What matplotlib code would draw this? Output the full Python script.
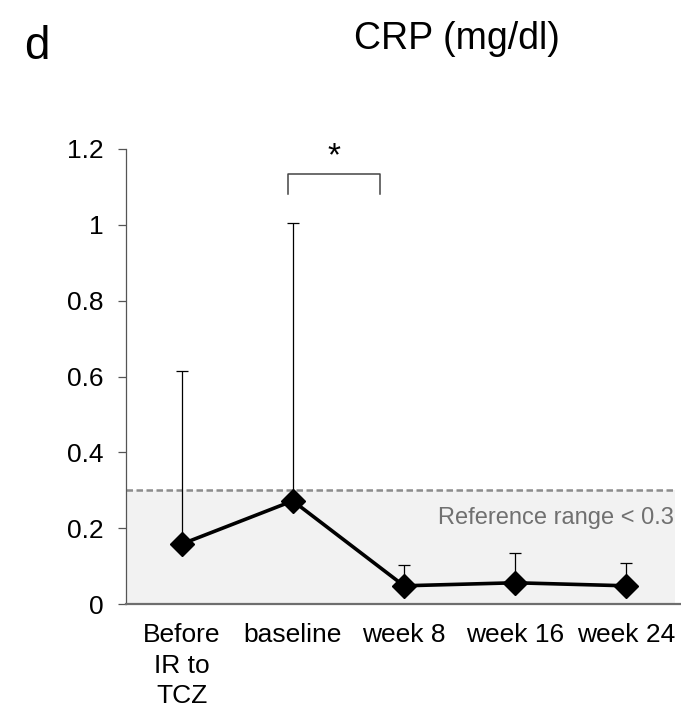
import matplotlib

matplotlib.use("Agg")
import matplotlib.pyplot as plt  # noqa: E402

plt.rcParams["font.family"] = ["Liberation Sans", "DejaVu Sans"]

# data
categories = ["Before\nIR to\nTCZ", "baseline", "week 8", "week 16", "week 24"]
crp_mean = [0.158, 0.272, 0.048, 0.056, 0.048]
crp_upper_err = [0.456, 0.732, 0.054, 0.079, 0.061]
reference_limit = 0.3
y_ticks = [0, 0.2, 0.4, 0.6, 0.8, 1, 1.2]
y_tick_labels = ["0", "0.2", "0.4", "0.6", "0.8", "1", "1.2"]

fig = plt.figure(figsize=(6.81, 7.08), dpi=100)
ax = fig.add_axes([126 / 681, 104 / 708, 556 / 681, 455 / 708])

x = list(range(len(categories)))
ax.set_xlim(-0.5, len(categories) - 0.5)
ax.set_ylim(0, 1.2)

# reference range band and its dashed upper limit
ax.axhspan(0, reference_limit, xmax=0.988, color="#f2f2f2", zorder=0, linewidth=0)
ax.axhline(reference_limit, xmax=0.988, color="#8c8c8c", linestyle=(0, (2.6, 1.4)),
           linewidth=1.8, zorder=1)
ax.text(4.43, 0.226, "Reference range < 0.3", ha="right", va="center",
        fontsize=17, color="#707070")

# one-sided (upper) error bars
ax.errorbar(x, crp_mean, yerr=[[0] * len(x), crp_upper_err], fmt="none",
            ecolor="black", elinewidth=0.9, capsize=4.2, capthick=0.9, zorder=2)
ax.plot(x, crp_mean, color="black", linewidth=2.6, marker="D", markersize=12,
        zorder=3)

# significance bracket baseline vs week 8
bx0, bx1 = 0.96, 1.78
ax.plot([bx0, bx0, bx1, bx1], [1.082, 1.134, 1.134, 1.082], color="#444444",
        linewidth=1.1, clip_on=False)
ax.text((bx0 + bx1) / 2, 1.138, "*", ha="center", va="bottom", fontsize=24)

ax.set_xticks(x)
ax.set_xticklabels(categories, fontsize=19, linespacing=1.32, va="top")
ax.tick_params(axis="x", length=0, pad=14)
ax.set_yticks(y_ticks)
ax.set_yticklabels(y_tick_labels, fontsize=19)
ax.tick_params(axis="y", direction="out", length=5.8, width=0.9, color="#555555",
               pad=10.5)

for side in ("top", "right"):
    ax.spines[side].set_visible(False)
ax.spines["left"].set_color("#555555")
ax.spines["left"].set_linewidth(0.9)
ax.spines["bottom"].set_color("#6e6e6e")
ax.spines["bottom"].set_linewidth(1.6)

fig.text(457 / 681, 1 - 49 / 708, "CRP (mg/dl)", ha="center", va="baseline",
         fontsize=27)
fig.text(24 / 681, 1 - 59 / 708, "d", ha="left", va="baseline", fontsize=33)

fig.savefig("out.png")
